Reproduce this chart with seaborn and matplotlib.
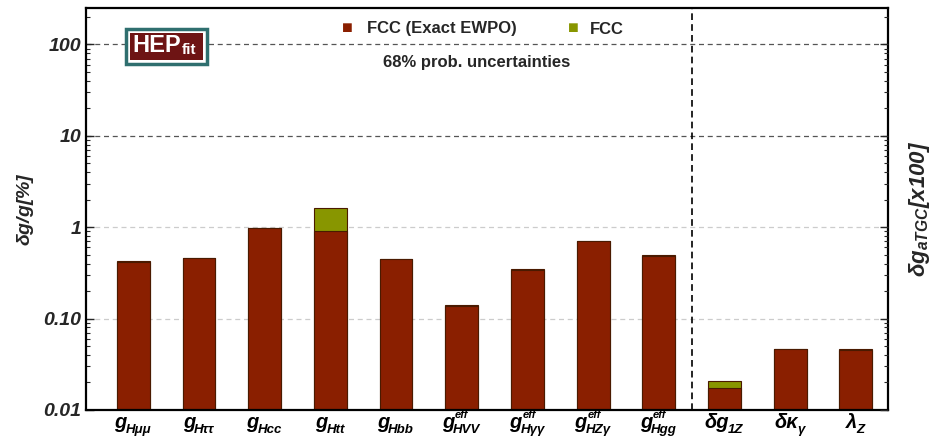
import matplotlib
matplotlib.use("Agg")
import matplotlib.pyplot as plt
import seaborn as sns
import pandas as pd
import numpy as np
from matplotlib.ticker import FixedLocator, LogLocator, NullFormatter
from matplotlib.patches import Rectangle

categories = ["gHmumu", "gHtautau", "gHcc", "gHtt", "gHbb", "gHVV", "gHgaga", "gHZga", "gHgg",
              "dg1Z", "dkga", "lZ"]
label_main = ["g", "g", "g", "g", "g", "g", "g", "g", "g", "δg", "δκ", "λ"]
label_sub = ["Hμμ", "Hττ", "Hcc", "Htt", "Hbb", "HVV", "Hγγ", "HZγ", "Hgg", "1Z", "γ", "Z"]
label_sup = ["", "", "", "", "", "eff", "eff", "eff", "eff", "", "", ""]
fcc_exact = [0.42, 0.46, 0.98, 0.90, 0.45, 0.136, 0.34, 0.70, 0.49, 0.0172, 0.047, 0.045]
fcc = [0.425, 0.465, 0.99, 1.61, 0.45, 0.14, 0.345, 0.70, 0.50, 0.021, 0.047, 0.046]
yticks = [0.01, 0.1, 1, 10, 100]
ytick_labels = ["0.01", "0.10", "1", "10", "100"]

sns.set_theme(style="white")
plt.rcParams['font.family'] = ['Liberation Sans', 'DejaVu Sans']
plt.rcParams['mathtext.fontset'] = 'custom'
plt.rcParams['mathtext.it'] = 'Liberation Sans:bold:italic'
plt.rcParams['mathtext.rm'] = 'Liberation Sans:bold:italic'
plt.rcParams['mathtext.bf'] = 'Liberation Sans:bold'

red = "#8a1f00"
green = "#889600"

df = pd.DataFrame({
    "cat": categories * 2,
    "val": fcc + fcc_exact,
    "series": ["FCC"] * len(categories) + ["FCC (Exact EWPO)"] * len(categories),
})

W, H = 931, 438
fig = plt.figure(figsize=(9.31, 4.38), dpi=100)
ax = fig.add_axes([86 / W, 28 / H, 802 / W, 402 / H])
ax.set_yscale("log")
sns.barplot(data=df, x="cat", y="val", hue="series", hue_order=["FCC", "FCC (Exact EWPO)"],
            palette={"FCC": green, "FCC (Exact EWPO)": red}, dodge=False, width=0.5,
            order=categories, ax=ax, legend=False, saturation=1,
            edgecolor="#4a1a00", linewidth=0.8)
ax.set_yscale("log")
ax.set_ylim(0.01, 250)
ax.set_xlim(-0.72, 11.49)

# grid lines
for v, c in [(100, "#555555"), (10, "#555555"), (1, "#cccccc"), (0.1, "#cccccc")]:
    ax.axhline(v, color=c, ls=(0, (4, 3)), lw=0.9, zorder=0.5)
ax.axvline(8.5, color="black", ls=(0, (4, 2.5)), lw=1.2, zorder=3)

ax.yaxis.set_major_locator(FixedLocator(yticks))
ax.set_yticklabels(ytick_labels, fontsize=14, fontweight="bold", fontstyle="italic")
ax.yaxis.set_minor_locator(LogLocator(base=10, subs=np.arange(2, 10)))
ax.yaxis.set_minor_formatter(NullFormatter())
ax.tick_params(axis="y", which="major", direction="in", length=6, width=1, left=True)
ax.tick_params(axis="y", which="minor", direction="in", length=3, width=0.8, left=True)
ax.tick_params(axis="x", direction="in", length=4, width=1, bottom=True)
ax.set_xticklabels([])
ax.set_xlabel("")
ax.set_ylabel(r"$\delta g/g[\%]$", fontsize=14, labelpad=5)

for s in ax.spines.values():
    s.set_color("black")
    s.set_linewidth(1.6)

ax2 = ax.twinx()
ax2.set_yscale("log")
ax2.set_ylim(0.01, 250)
ax2.yaxis.set_major_locator(FixedLocator(yticks))
ax2.yaxis.set_minor_locator(LogLocator(base=10, subs=np.arange(2, 10)))
ax2.set_yticklabels([])
ax2.yaxis.set_minor_formatter(NullFormatter())
ax2.tick_params(axis="y", which="major", direction="in", length=6, width=1, right=True)
ax2.tick_params(axis="y", which="minor", direction="in", length=3, width=0.8, right=True)
ax2.set_ylabel(r"$\delta g_{aTGC}$[x100]", fontsize=16, fontweight="bold", fontstyle="italic", labelpad=10)
for s in ax2.spines.values():
    s.set_visible(False)

# custom x tick labels (main symbol + subscript + superscript)
fig.canvas.draw()
renderer = fig.canvas.get_renderer()
base_main = 428
base_sub = 433
base_sup = 418.5
kw = dict(fontweight="bold", fontstyle="italic", color="black", va="baseline", ha="left")
for i in range(len(categories)):
    xc = ax.transData.transform((i, 1))[0]
    tm = fig.text(0, (H - base_main) / H, label_main[i], fontsize=14.5, **kw)
    ts = fig.text(0, (H - base_sub) / H, label_sub[i], fontsize=9.5, **kw)
    wm = tm.get_window_extent(renderer).width
    ws = ts.get_window_extent(renderer).width
    wp = 0
    tp = None
    if label_sup[i]:
        tp = fig.text(0, (H - base_sup) / H, label_sup[i], fontsize=8, **kw)
        wp = tp.get_window_extent(renderer).width
    total = wm + max(ws, wp)
    x0 = xc - total / 2
    tm.set_x(x0 / W)
    ts.set_x((x0 + wm - 1) / W)
    if tp is not None:
        tp.set_x((x0 + wm + 1) / W)

# legend
fig.text(347 / W, 1 - 29 / H, "\u25A0", color=red, fontsize=13, ha="center", va="center")
fig.text(367 / W, 1 - 29 / H, "FCC (Exact EWPO)", fontsize=12, fontweight="bold", ha="left", va="center")
fig.text(573 / W, 1 - 29 / H, "\u25A0", color=green, fontsize=13, ha="center", va="center")
fig.text(590 / W, 1 - 29 / H, "FCC", fontsize=12, fontweight="bold", ha="left", va="center")
fig.text(477 / W, 1 - 62 / H, "68% prob. uncertainties", fontsize=12, fontweight="bold", ha="center", va="center")

# HEPfit logo
fig.patches.append(Rectangle((126 / W, 1 - 64 / H), 81 / W, 35 / H, transform=fig.transFigure,
                             facecolor="white", edgecolor="#2f6f6f", linewidth=2.5, zorder=5))
fig.patches.append(Rectangle((130 / W, 1 - 60 / H), 73 / W, 27 / H, transform=fig.transFigure,
                             facecolor="#6e1414", edgecolor="none", zorder=6))
fig.text(132 / W, 1 - 46 / H, "HEP", color="white", fontsize=17, fontweight="bold", ha="left", va="center", zorder=7)
fig.text(182 / W, 1 - 50 / H, "fit", color="white", fontsize=11, fontweight="bold", ha="left", va="center", zorder=7)

fig.savefig("out.png", dpi=100)
